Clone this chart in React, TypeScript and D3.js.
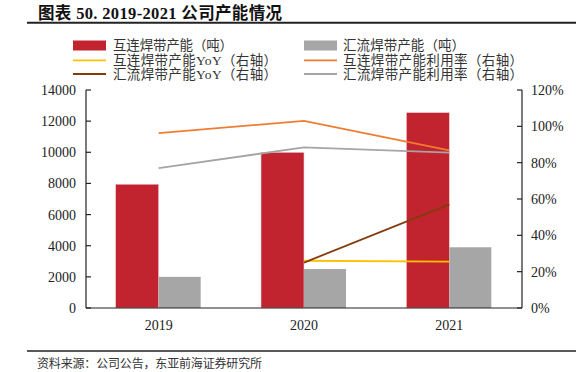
import React from "react";
import * as d3 from "d3";

const categories = ["2019", "2020", "2021"];
const interconnectCap = [7950, 10000, 12550];
const busbarCap = [2000, 2500, 3900];
const interconnectYoY: (number | null)[] = [null, 0.26, 0.255];
const busbarYoY: (number | null)[] = [null, 0.25, 0.57];
const interconnectUtil = [0.963, 1.03, 0.868];
const busbarUtil = [0.77, 0.884, 0.855];
const leftTicks = [0, 2000, 4000, 6000, 8000, 10000, 12000, 14000];
const rightTicks = [0, 0.2, 0.4, 0.6, 0.8, 1.0, 1.2];

const W = 588, H = 372;
const plot = { left: 86, right: 522, top: 90, bottom: 308 };
const RED = "#C1232F", GRAY = "#A6A6A6", ORANGE = "#ED7D31", YELLOW = "#FFC000", BROWN = "#843C0C", LGRAY = "#A5A5A5";
const SERIF = "'Liberation Serif', 'Times New Roman', 'Noto Sans CJK SC', serif";

export default function App() {
  const x = d3.scaleBand<string>().domain(categories).range([plot.left, plot.right]).padding(0);
  const yL = d3.scaleLinear().domain([0, 14000]).range([plot.bottom, plot.top]);
  const yR = d3.scaleLinear().domain([0, 1.2]).range([plot.bottom, plot.top]);
  const bw = 43;
  const cx = (c: string) => (x(c) as number) + x.bandwidth() / 2;

  const lineGen = (vals: (number | null)[]) =>
    d3
      .line<number | null>()
      .defined((d) => d != null)
      .x((_, i) => cx(categories[i]))
      .y((d) => yR(d as number))(vals) || "";

  const legendLeft = [
    { type: "rect", color: RED, label: "互连焊带产能（吨）", len: 120 },
    { type: "line", color: YELLOW, label: "互连焊带产能YoY（右轴）", len: 164 },
    { type: "line", color: BROWN, label: "汇流焊带产能YoY（右轴）", len: 164 },
  ];
  const legendRight = [
    { type: "rect", color: GRAY, label: "汇流焊带产能（吨）", len: 122 },
    { type: "line", color: ORANGE, label: "互连焊带产能利用率（右轴）", len: 180 },
    { type: "line", color: LGRAY, label: "汇流焊带产能利用率（右轴）", len: 180 },
  ];
  const rowsY = [45.5, 60.3, 74];

  const renderLegend = (items: typeof legendLeft, x0: number, tx: number) =>
    items.map((it, i) => (
      <g key={it.label}>
        {it.type === "rect" ? (
          <rect x={x0} y={rowsY[i] - 5} width={33} height={10} fill={it.color} />
        ) : (
          <line x1={x0} x2={x0 + 33} y1={rowsY[i]} y2={rowsY[i]} stroke={it.color} strokeWidth={1.8} />
        )}
        <text x={tx} y={rowsY[i] + 4.5} fontSize={13.5} fill="#333" fontFamily={SERIF} textLength={it.len} lengthAdjust="spacing">
          {it.label}
        </text>
      </g>
    ));

  return (
    <svg width={W} height={H} style={{ position: "absolute", left: 0, top: 0, background: "#fff" }} fontFamily={SERIF}>
      <text x={38} y={18.5} fontSize={16.5} fontWeight="bold" fill="#111" textLength={244} lengthAdjust="spacing">
        图表 50. 2019-2021 公司产能情况
      </text>
      <line x1={27} x2={576} y1={22.7} y2={22.7} stroke="#222" strokeWidth={2} />

      {renderLegend(legendLeft, 73, 113)}
      {renderLegend(legendRight, 304, 343)}

      {/* bars */}
      {categories.map((c, i) => (
        <g key={c}>
          <rect x={cx(c) - bw} y={yL(interconnectCap[i])} width={bw} height={plot.bottom - yL(interconnectCap[i])} fill={RED} stroke="#f3d0d3" strokeWidth={0.6} />
          <rect x={cx(c)} y={yL(busbarCap[i])} width={bw - 1} height={plot.bottom - yL(busbarCap[i])} fill={GRAY} />
        </g>
      ))}

      {/* lines */}
      <path d={lineGen(interconnectUtil)} fill="none" stroke={ORANGE} strokeWidth={1.8} />
      <path d={lineGen(busbarUtil)} fill="none" stroke={LGRAY} strokeWidth={1.8} />
      <path d={lineGen(interconnectYoY)} fill="none" stroke={YELLOW} strokeWidth={1.8} />
      <path d={lineGen(busbarYoY)} fill="none" stroke={BROWN} strokeWidth={1.8} />

      {/* axes */}
      <line x1={plot.left} x2={plot.left} y1={plot.top} y2={plot.bottom} stroke="#222" strokeWidth={1.2} />
      <line x1={plot.right} x2={plot.right} y1={plot.top} y2={plot.bottom} stroke="#222" strokeWidth={1.2} />
      <line x1={plot.left} x2={plot.right} y1={plot.bottom} y2={plot.bottom} stroke="#222" strokeWidth={1.2} />
      {leftTicks.map((t) => (
        <g key={"l" + t}>
          <line x1={plot.left} x2={plot.left + 5} y1={yL(t)} y2={yL(t)} stroke="#222" strokeWidth={1.2} />
          <text x={76} y={yL(t) + 5} textAnchor="end" fontSize={14} fill="#222">
            {t}
          </text>
        </g>
      ))}
      {rightTicks.map((t) => (
        <g key={"r" + t}>
          <line x1={plot.right - 5} x2={plot.right} y1={yR(t)} y2={yR(t)} stroke="#222" strokeWidth={1.2} />
          <text x={531} y={yR(t) + 5} textAnchor="start" fontSize={14} fill="#222">
            {d3.format(".0%")(t)}
          </text>
        </g>
      ))}
      {categories.map((c) => (
        <text key={"c" + c} x={cx(c)} y={330} textAnchor="middle" fontSize={14} fill="#222">
          {c}
        </text>
      ))}

      <line x1={27} x2={576} y1={351} y2={351} stroke="#222" strokeWidth={1.5} />
      <text x={37} y={368} fontSize={12} fill="#333" textLength={225} lengthAdjust="spacing">
        资料来源：公司公告，东亚前海证券研究所
      </text>
    </svg>
  );
}
